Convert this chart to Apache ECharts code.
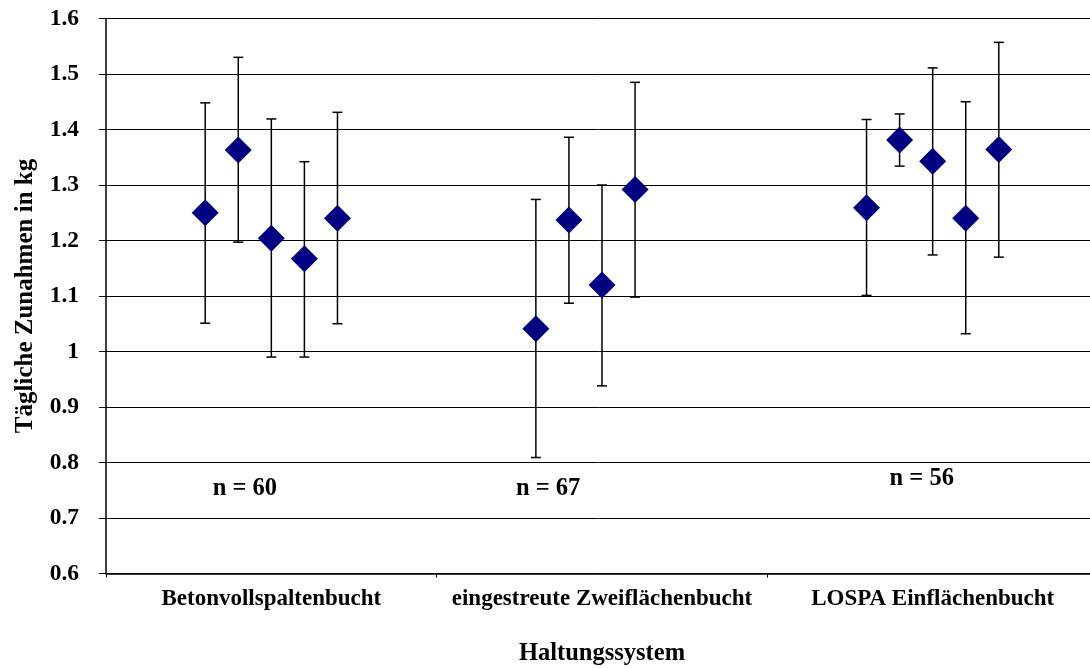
<!DOCTYPE html>
<html>
<head>
<meta charset="utf-8">
<title>Tägliche Zunahmen</title>
<script src="https://cdn.jsdelivr.net/npm/echarts@6/dist/echarts.min.js"></script>
<style>
    html, body { margin: 0; padding: 0; background: #fff; }
    #main-chart { width: 1090px; height: 668px; }
</style>
</head>
<body>
<div id="main-chart"></div>
<script>
// Data
const categories = ['Betonvollspaltenbucht', 'eingestreute Zweiflächenbucht', 'LOSPA Einflächenbucht'];
const sampleSizes = ['n = 60', 'n = 67', 'n = 56'];

// mean daily gain per group (kg)
const meanValues = [
    [1.250, 1.363, 1.204, 1.167, 1.240],
    [1.041, 1.237, 1.120, 1.292],
    [1.259, 1.381, 1.343, 1.240, 1.364]
];
// upper end of error bar
const upperValues = [
    [1.448, 1.530, 1.419, 1.342, 1.431],
    [1.274, 1.386, 1.300, 1.485],
    [1.418, 1.428, 1.511, 1.450, 1.557]
];
// lower end of error bar
const lowerValues = [
    [1.051, 1.197, 0.990, 0.990, 1.050],
    [0.809, 1.087, 0.938, 1.098],
    [1.101, 1.334, 1.174, 1.032, 1.170]
];

const yTicks = { min: 0.6, max: 1.6, step: 0.1 };

// Layout: points sit in slots of 0.1 category width, starting at 0.3
const slotStart = 0.3;
const slotWidth = 0.1;
// anchor of the "n = .." annotations (category units, value units)
const nLabelAnchors = [[0.42, 0.753], [1.337, 0.753], [2.467, 0.771]];

const FONT = 'Liberation Serif';

function buildPoints() {
    const diamonds = [];
    const bars = [];
    meanValues.forEach((group, ci) => {
        group.forEach((m, i) => {
            const x = ci + slotStart + slotWidth * i;
            diamonds.push([x, m]);
            bars.push([x, lowerValues[ci][i], upperValues[ci][i]]);
        });
    });
    return { diamonds, bars };
}

function renderErrorBar(params, api) {
    const x = api.value(0);
    const low = api.coord([x, api.value(1)]);
    const high = api.coord([x, api.value(2)]);
    const capHalf = 5;
    const style = { stroke: '#000', lineWidth: 1.5 };
    return {
        type: 'group',
        children: [
            { type: 'line', shape: { x1: low[0], y1: low[1], x2: high[0], y2: high[1] }, style },
            { type: 'line', shape: { x1: high[0] - capHalf, y1: high[1], x2: high[0] + capHalf, y2: high[1] }, style },
            { type: 'line', shape: { x1: low[0] - capHalf, y1: low[1], x2: low[0] + capHalf, y2: low[1] }, style }
        ]
    };
}

function initChart() {
    const chart = echarts.init(document.getElementById('main-chart'));
    const pts = buildPoints();
    const nData = nLabelAnchors.map((a, i) => [a[0], a[1], sampleSizes[i]]);

    const option = {
        animation: false,
        backgroundColor: '#fff',
        textStyle: { fontFamily: FONT, fontWeight: 'bold', color: '#000' },
        grid: { left: 106, right: -8, top: 18.5, bottom: 94.5, outerBoundsMode: 'none' },
        xAxis: [
            {
                type: 'category',
                data: categories,
                boundaryGap: true,
                name: 'Haltungssystem',
                nameLocation: 'middle',
                nameGap: 68,
                nameTextStyle: { fontFamily: FONT, fontWeight: 'bold', fontSize: 24.5, color: '#000' },
                axisLine: { lineStyle: { color: '#000', width: 1.5 } },
                axisTick: { show: true, interval: 0, length: 4, lineStyle: { color: '#000' } },
                axisLabel: { interval: 0, margin: 14, fontFamily: FONT, fontWeight: 'bold', fontSize: 23, color: '#000' },
                splitLine: { show: false }
            },
            {
                type: 'value',
                min: 0,
                max: 3,
                show: false
            }
        ],
        yAxis: {
            type: 'value',
            min: yTicks.min,
            max: yTicks.max,
            interval: yTicks.step,
            name: 'Tägliche Zunahmen in kg',
            nameLocation: 'middle',
            nameGap: 68,
            nameTextStyle: { fontFamily: FONT, fontWeight: 'bold', fontSize: 25, color: '#000' },
            axisLine: { show: true, lineStyle: { color: '#000', width: 1.5 } },
            axisTick: { show: true, length: 7, lineStyle: { color: '#000' } },
            axisLabel: {
                margin: 27,
                fontFamily: FONT,
                fontWeight: 'bold',
                fontSize: 23.5,
                color: '#000',
                formatter: v => String(parseFloat(v.toFixed(1)))
            },
            splitLine: { show: true, lineStyle: { color: '#000', width: 1 } }
        },
        series: [
            {
                name: 'Fehlerbalken',
                type: 'custom',
                xAxisIndex: 1,
                renderItem: renderErrorBar,
                data: pts.bars,
                z: 2
            },
            {
                name: 'Mittelwert',
                type: 'scatter',
                xAxisIndex: 1,
                symbol: 'diamond',
                symbolSize: 27,
                itemStyle: { color: '#000080', opacity: 1 },
                data: pts.diamonds,
                z: 3
            },
            {
                name: 'n',
                type: 'scatter',
                xAxisIndex: 1,
                symbolSize: 0,
                itemStyle: { opacity: 1 },
                data: nData,
                label: {
                    show: true,
                    position: 'inside',
                    formatter: p => p.data[2],
                    fontFamily: FONT,
                    fontWeight: 'bold',
                    fontSize: 24.5,
                    color: '#000'
                },
                z: 4
            }
        ]
    };
    chart.setOption(option);
}

initChart();
</script>
</body>
</html>
